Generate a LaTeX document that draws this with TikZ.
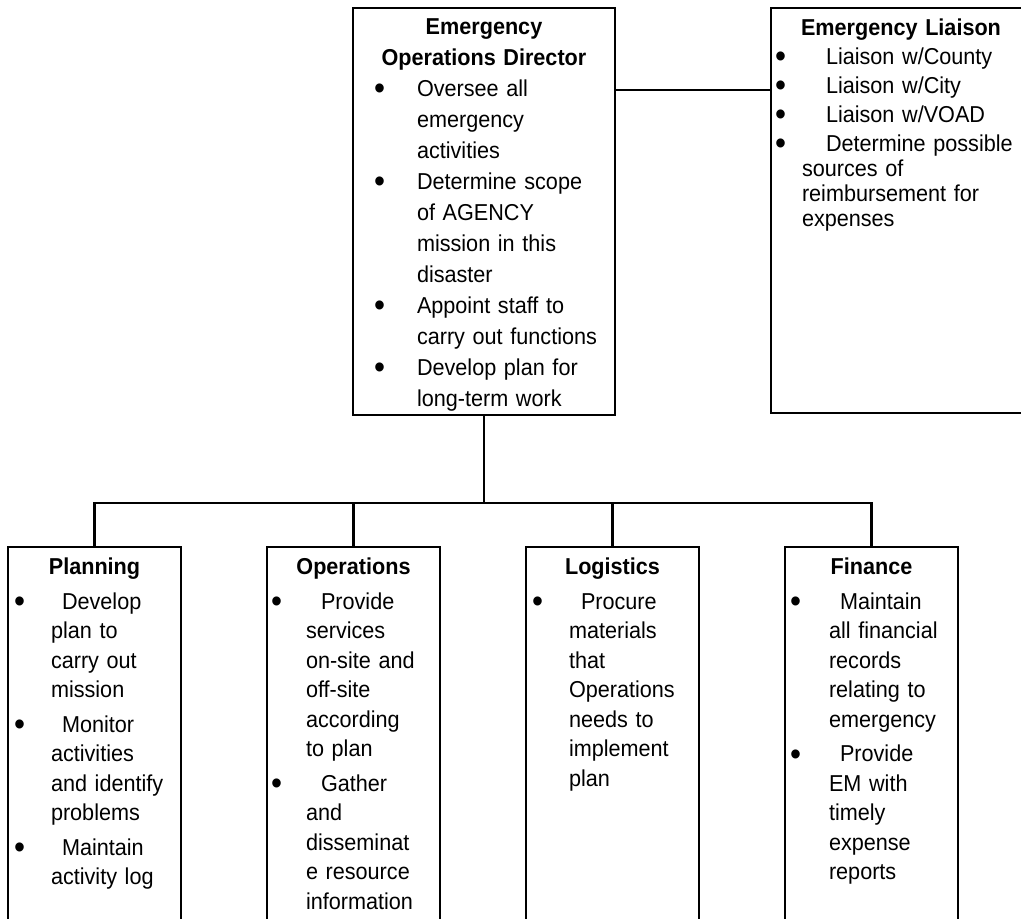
\documentclass[tikz,border=0pt]{standalone}
\usepackage{fontspec}
\usepackage{graphicx}
\setmainfont{Liberation Sans}[FakeStretch=0.94]
\usetikzlibrary{positioning}
\newlength{\px}\setlength{\px}{0.75pt}
% heading line, bullet line, wrapped line
\newcommand{\hd}[1]{\makebox[\linewidth][c]{\bfseries #1}}
\newcommand{\bu}[3]{\makebox[#2\px][l]{\hspace*{#1\px}\raisebox{-3\px}[0pt][0pt]{\scalebox{1.45}{\textbullet}}}#3}
\newcommand{\ct}[2]{\hspace*{#1\px}#2}

\begin{document}
\begin{tikzpicture}[
  x=0.75pt, y=-0.75pt,
  role/.style={rectangle, draw=black, line width=1.6pt, inner sep=0pt, outer sep=0pt,
               align=left, anchor=north west},
  chief/.style={role, text width=262\px, text height=27\px, text depth=380\px,
                font=\fontsize{17.25pt}{23.25pt}\selectfont},
  liaison/.style={role, text width=260\px, text height=28\px, text depth=377\px,
                  font=\fontsize{17.25pt}{21.75pt}\selectfont},
  branch/.style={role, text width=173\px, text height=28\px, text depth=400\px,
                 font=\fontsize{17.25pt}{22.125pt}\selectfont},
  link/.style={line width=1.6pt}
]
\useasboundingbox (0,0) rectangle (1021,919);
\clip (0,0) rectangle (1021,919);

\node[chief] (dir) at (353,8) {\hd{Emergency}\\
  \hd{Operations Director}\\
  \bu{21}{64}{Oversee all}\\
  \ct{64}{emergency}\\
  \ct{64}{activities}\\
  \bu{21}{64}{Determine scope}\\
  \ct{64}{of AGENCY}\\
  \ct{64}{mission in this}\\
  \ct{64}{disaster}\\
  \bu{21}{64}{Appoint staff to}\\
  \ct{64}{carry out functions}\\
  \bu{21}{64}{Develop plan for}\\
  \ct{64}{long-term work}};
\node[liaison, right=156\px of dir.north east, anchor=north west] (liai) {\hd{Emergency Liaison}\\
  \bu{4}{55}{Liaison w/County}\\
  \bu{4}{55}{Liaison w/City}\\
  \bu{4}{55}{Liaison w/VOAD}\\
  \bu{4}{55}{Determine possible}\\[-4\px]
  \ct{31}{sources of}\\[-4\px]
  \ct{31}{reimbursement for}\\[-4\px]
  \ct{31}{expenses}};

\node[branch] (plan) at (8,547) {\hd{Planning}\\[5\px]
  \bu{6}{54}{Develop}\\
  \ct{43}{plan to}\\
  \ct{43}{carry out}\\
  \ct{43}{mission}\\[5\px]
  \bu{6}{54}{Monitor}\\
  \ct{43}{activities}\\
  \ct{43}{and identify}\\
  \ct{43}{problems}\\[5\px]
  \bu{6}{54}{Maintain}\\
  \ct{43}{activity log}};
\node[branch, right=86\px of plan] (ops) {\hd{Operations}\\[5\px]
  \bu{4}{54}{Provide}\\
  \ct{39}{services}\\
  \ct{39}{on-site and}\\
  \ct{39}{off-site}\\
  \ct{39}{according}\\
  \ct{39}{to plan}\\[5\px]
  \bu{4}{54}{Gather}\\
  \ct{39}{and}\\
  \ct{39}{disseminat}\\
  \ct{39}{e resource}\\
  \ct{39}{information}};
\node[branch, right=86\px of ops] (log) {\hd{Logistics}\\[5\px]
  \bu{6}{55}{Procure}\\
  \ct{43}{materials}\\
  \ct{43}{that}\\
  \ct{43}{Operations}\\
  \ct{43}{needs to}\\
  \ct{43}{implement}\\
  \ct{43}{plan}};
\node[branch, right=86\px of log] (fin) {\hd{Finance}\\[5\px]
  \bu{5}{55}{Maintain}\\
  \ct{44}{all financial}\\
  \ct{44}{records}\\
  \ct{44}{relating to}\\
  \ct{44}{emergency}\\[5\px]
  \bu{5}{55}{Provide}\\
  \ct{44}{EM with}\\
  \ct{44}{timely}\\
  \ct{44}{expense}\\
  \ct{44}{reports}};

\draw[link] ([yshift=-82\px]dir.north east) -- ([yshift=-82\px]liai.north west);
\draw[link] (dir.south) -- ++(0,88) coordinate (bus);
\draw[link] (plan.north) |- (bus) -| (fin.north);
\draw[link] (ops.north) -- (ops.north |- bus);
\draw[link] (log.north) -- (log.north |- bus);

\end{tikzpicture}
\end{document}
